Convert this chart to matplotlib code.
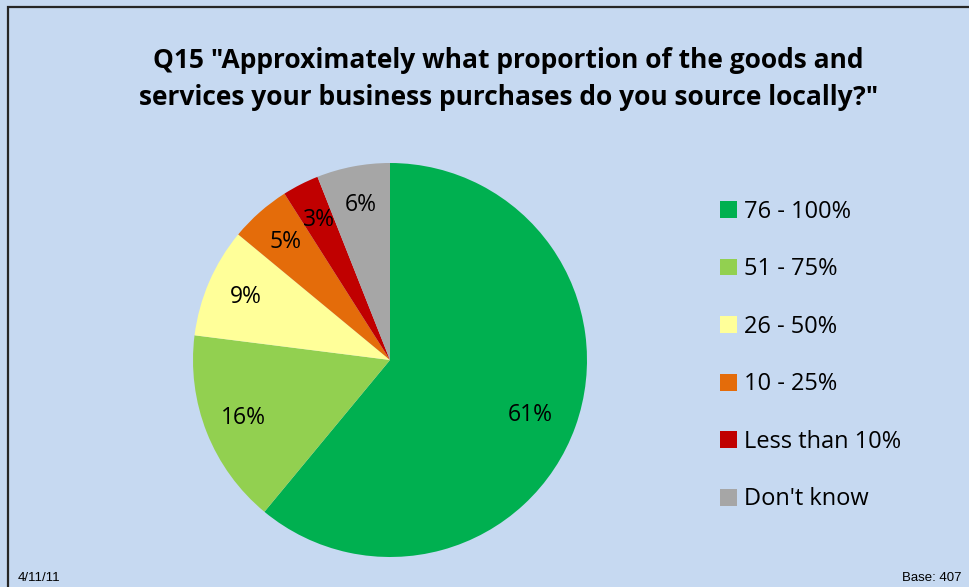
import matplotlib.pyplot as plt
from matplotlib.patches import Rectangle

# survey answers, share of respondents (%)
labels = ['76 - 100%', '51 - 75%', '26 - 50%', '10 - 25%', 'Less than 10%', "Don't know"]
shares = [61, 16, 9, 5, 3, 6]
colors = ['#00B050', '#92D050', '#FFFF99', '#E46C0A', '#C00000', '#A6A6A6']

title = 'Q15 "Approximately what proportion of the goods and\nservices your business purchases do you source locally?"'
bg = '#C6D9F1'

fig = plt.figure(figsize=(9.69, 5.87), dpi=100)
fig.patch.set_facecolor(bg)

# outer chart frame (runs off the right/bottom edge)
fig.patches.append(Rectangle((8 / 969, -0.05), 1.1, 1 - 7 / 587 + 0.05,
                             transform=fig.transFigure, fill=False,
                             edgecolor='#262626', linewidth=1.6))

fig.text(0.525, 1 - 79 / 587, title, ha='center', va='center',
         fontsize=19, fontweight='bold', family='Open Sans',
         linespacing=1.5)

# pie: centre (390, 360), radius 197 px
r = 197
ax = fig.add_axes([(390 - r) / 969, (587 - 360 - r) / 587, 2 * r / 969, 2 * r / 587])
ax.set_facecolor(bg)
wedges, texts = ax.pie(shares, colors=colors, startangle=90, counterclock=False,
                       radius=1.0, labels=[f'{s}%' for s in shares],
                       labeldistance=0.8,
                       textprops=dict(fontsize=16.5, family='Open Sans', ha='center', va='center'))
texts[0].set_position((0.71, -0.28))
ax.set_aspect('equal')
ax.set_xlim(-1, 1)
ax.set_ylim(-1, 1)
ax.axis('off')

fig.legend(wedges, labels, loc='upper left', bbox_to_anchor=(708 / 969, 1 - 188 / 587),
           frameon=False, prop=dict(family='Open Sans', size=17),
           handlelength=0.72, handleheight=0.72, handletextpad=0.3,
           labelspacing=1.42, borderpad=0)

fig.text(18 / 969, 1 - 578 / 587, '4/11/11', ha='left', va='center',
         fontsize=9.5, family='Liberation Sans')
fig.text(961 / 969, 1 - 578 / 587, 'Base: 407', ha='right', va='center',
         fontsize=9.5, family='Liberation Sans')

fig.savefig('out.png', dpi=100, facecolor=bg)
